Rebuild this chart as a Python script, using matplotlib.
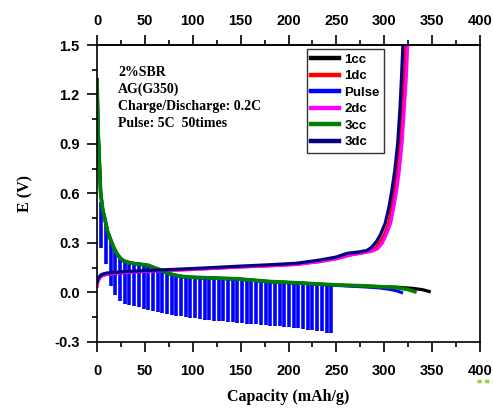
import matplotlib
matplotlib.use("Agg")
import matplotlib.pyplot as plt
from matplotlib.lines import Line2D
from matplotlib.ticker import MultipleLocator, FormatStrFormatter

# === DATOS ===
# 1cc (negro) - descarga
cap_1cc = [0, 1, 2.4, 3.8, 6, 8.4, 11, 14.3, 17, 20.5, 24, 27.5, 33, 38, 45, 53.6, 60, 66, 73, 80, 88, 97,
           115, 146, 179, 214, 249, 275, 296, 313, 330, 340, 347]
e_1cc = [1.29, 1.0, 0.80, 0.60, 0.50, 0.44, 0.37, 0.318, 0.278, 0.237, 0.21, 0.192, 0.182, 0.176, 0.171, 0.163,
         0.148, 0.136, 0.118, 0.106, 0.097, 0.092, 0.088, 0.082, 0.066, 0.056, 0.045, 0.040, 0.035, 0.032,
         0.025, 0.017, 0.006]

# 3cc (verde) - descarga
cap_3cc = [0, 1, 2.4, 3.8, 6, 8.4, 11, 14.3, 17, 20.5, 24, 27.5, 33, 38, 45, 53.6, 60, 66, 73, 80, 88, 97,
           115, 146, 179, 214, 249, 275, 296, 313, 325, 332]
e_3cc = [1.29, 1.0, 0.80, 0.60, 0.50, 0.44, 0.37, 0.318, 0.278, 0.237, 0.21, 0.192, 0.182, 0.176, 0.171, 0.165,
         0.150, 0.138, 0.120, 0.107, 0.098, 0.093, 0.089, 0.083, 0.067, 0.057, 0.046, 0.041, 0.035, 0.030,
         0.018, 0.005]

# Pulse (azul) - linea base
cap_pulse = [0, 1, 2.4, 3.8, 6, 8.4, 11, 14.3, 17, 20.5, 24, 27.5, 33, 38, 45, 53.6, 60, 66, 73, 80, 88, 97,
             115, 146, 179, 214, 245, 260, 280, 295, 305, 312, 318]
e_pulse = [1.29, 1.0, 0.80, 0.60, 0.50, 0.44, 0.37, 0.318, 0.278, 0.237, 0.21, 0.192, 0.182, 0.176, 0.171, 0.163,
           0.148, 0.136, 0.118, 0.106, 0.097, 0.092, 0.088, 0.082, 0.066, 0.056, 0.045, 0.040, 0.034, 0.028,
           0.020, 0.012, 0.0]

# Pulse - picos (50 veces)
pico_cap = [4.5, 9.4, 14.3, 19.2, 24.1, 29.0, 33.9, 38.8, 43.7, 48.6, 53.5, 58.4, 63.3, 68.2, 73.1, 78.0,
            82.9, 87.8, 92.7, 97.6, 102.5, 107.4, 112.3, 117.2, 122.1, 127.0, 131.9, 136.8, 141.7, 146.6,
            151.5, 156.4, 161.3, 166.2, 171.1, 176.0, 180.9, 185.8, 190.7, 195.6, 200.5, 205.4, 210.3,
            215.2, 220.1, 225.0, 229.9, 234.8, 239.7, 244.6]
pico_min = [0.27, 0.17, 0.04, -0.015, -0.052, -0.068, -0.075, -0.082, -0.09, -0.098, -0.105, -0.112, -0.118,
            -0.125, -0.13, -0.135, -0.14, -0.145, -0.15, -0.153, -0.157, -0.16, -0.165, -0.168, -0.17,
            -0.172, -0.174, -0.176, -0.178, -0.182, -0.185, -0.188, -0.19, -0.193, -0.197, -0.2, -0.203,
            -0.203, -0.205, -0.208, -0.212, -0.215, -0.218, -0.222, -0.225, -0.228, -0.232, -0.235,
            -0.248, -0.245]
pico_max = [0.55, 0.41, 0.318, 0.25, 0.21, 0.192, 0.182, 0.176, 0.171, 0.167, 0.163, 0.15, 0.135, 0.123,
            0.114, 0.108, 0.102, 0.097, 0.094, 0.092, 0.090, 0.089, 0.088, 0.087, 0.086, 0.085, 0.084,
            0.083, 0.082, 0.082, 0.080, 0.078, 0.076, 0.074, 0.072, 0.069, 0.066, 0.065, 0.064, 0.062,
            0.061, 0.059, 0.058, 0.056, 0.054, 0.053, 0.051, 0.050, 0.048, 0.047]

# 1dc (rojo) - carga
cap_1dc = [0, 1, 3, 5, 10, 27.5, 50, 80, 110, 150, 180, 208, 233, 250, 265, 280, 286, 291, 296, 300,
           304.7, 308, 311, 313.7, 316.5, 319, 321, 322.7]
e_1dc = [0.04, 0.07, 0.09, 0.10, 0.11, 0.12, 0.128, 0.135, 0.143, 0.155, 0.162, 0.170, 0.188, 0.205, 0.228,
         0.243, 0.252, 0.27, 0.31, 0.35, 0.42, 0.52, 0.62, 0.74, 0.9, 1.12, 1.3, 1.5]

# 2dc (magenta) - carga
cap_2dc = [0, 1, 3, 5, 10, 27.5, 50, 80, 110, 150, 180, 208, 233, 250, 265, 280, 287, 293, 298, 302,
           306.7, 310, 313, 315.7, 318.5, 321, 323, 324.5]
e_2dc = [0.04, 0.07, 0.09, 0.10, 0.11, 0.12, 0.128, 0.135, 0.143, 0.155, 0.162, 0.170, 0.188, 0.205, 0.228,
         0.243, 0.25, 0.265, 0.30, 0.35, 0.42, 0.52, 0.62, 0.74, 0.9, 1.12, 1.3, 1.5]

# 3dc (azul marino) - carga
cap_3dc = [0, 1, 3, 5, 10, 27.5, 50, 80, 110, 150, 180, 208, 233, 250, 261, 275, 282, 287, 292, 296,
           301, 305, 308, 311, 314, 316.5, 318, 319.5]
e_3dc = [0.066, 0.085, 0.100, 0.110, 0.118, 0.126, 0.133, 0.140, 0.148, 0.160, 0.168, 0.177, 0.197, 0.215,
         0.237, 0.247, 0.255, 0.275, 0.31, 0.35, 0.42, 0.52, 0.62, 0.74, 0.9, 1.12, 1.3, 1.5]

texto = ["2%SBR", "AG(G350)", "Charge/Discharge: 0.2C", "Pulse: 5C  50times"]

# === FIGURA ===
sans = "Liberation Sans"
serif = "Liberation Serif"
lw = 2.3

fig = plt.figure(figsize=(4.93, 4.08), dpi=100)
ax = fig.add_axes([0.1968, 0.1618, 0.7768, 0.7279])

ax.plot(cap_1cc, e_1cc, color="black", lw=lw, label="1cc")
ax.plot(cap_1dc, e_1dc, color="red", lw=lw, label="1dc")
ax.plot(cap_pulse, e_pulse, color="blue", lw=lw, label="Pulse")
ax.vlines(pico_cap, pico_min, pico_max, color="blue", lw=2.6)
ax.plot(cap_2dc, e_2dc, color="#FF00FF", lw=lw, label="2dc")
ax.plot(cap_3cc, e_3cc, color="#008000", lw=lw + 0.4, label="3cc")
ax.plot(cap_3dc, e_3dc, color="#000080", lw=lw, label="3dc")

ax.set_xlim(0, 400)
ax.set_ylim(-0.3, 1.5)
ax.xaxis.set_major_locator(MultipleLocator(50))
ax.xaxis.set_minor_locator(MultipleLocator(25))
ax.yaxis.set_major_locator(MultipleLocator(0.3))
ax.yaxis.set_minor_locator(MultipleLocator(0.15))
ax.yaxis.set_major_formatter(FormatStrFormatter("%.1f"))

for s in ax.spines.values():
    s.set_linewidth(1.2)

ax.tick_params(which="both", direction="out", width=1.2, right=False)
ax.tick_params(which="major", length=7.5)
ax.tick_params(which="minor", length=3.8)
ax.tick_params(axis="y", which="major", pad=5)
ax.tick_params(axis="x", which="major", pad=8.5)

# eje superior con las mismas marcas
top = ax.secondary_xaxis("top")
top.xaxis.set_major_locator(MultipleLocator(50))
top.xaxis.set_minor_locator(MultipleLocator(25))
top.tick_params(which="both", direction="out", width=1.2)
top.tick_params(which="major", length=7.5, pad=5)
top.tick_params(which="minor", length=3.8)
top.spines["top"].set_linewidth(1.2)

for lab in ax.get_xticklabels() + ax.get_yticklabels() + top.get_xticklabels():
    lab.set_fontfamily(sans)
    lab.set_fontweight("bold")
    lab.set_fontsize(10.5)

ax.set_xlabel("Capacity (mAh/g)", fontfamily=serif, fontweight="bold", fontsize=11.5, labelpad=8)
ax.set_ylabel("E (V)", fontfamily=serif, fontweight="bold", fontsize=11.5, labelpad=15)

for i, t in enumerate(texto):
    ax.text(0.055, 0.909 - i * 0.058, t, transform=ax.transAxes, fontfamily=serif,
            fontweight="bold", fontsize=10, va="center", ha="left")

leg = ax.legend(loc="upper left", bbox_to_anchor=(0.5475, 0.9865), borderaxespad=0, frameon=True,
                fancybox=False, edgecolor="black", handlelength=2.1, handletextpad=0.4, borderpad=0.35,
                labelspacing=0.32, prop={"family": sans, "weight": "bold", "size": 9.5})
leg.get_frame().set_linewidth(1.0)
for h in leg.get_lines():
    h.set_linewidth(3.2)

# marca verde punteada abajo a la derecha
fig.add_artist(Line2D([0.967, 1.0], [0.066, 0.066], color="#8CD43C", lw=2.5, ls=(0, (1.2, 1.0))))

fig.savefig("out.png", dpi=100)
